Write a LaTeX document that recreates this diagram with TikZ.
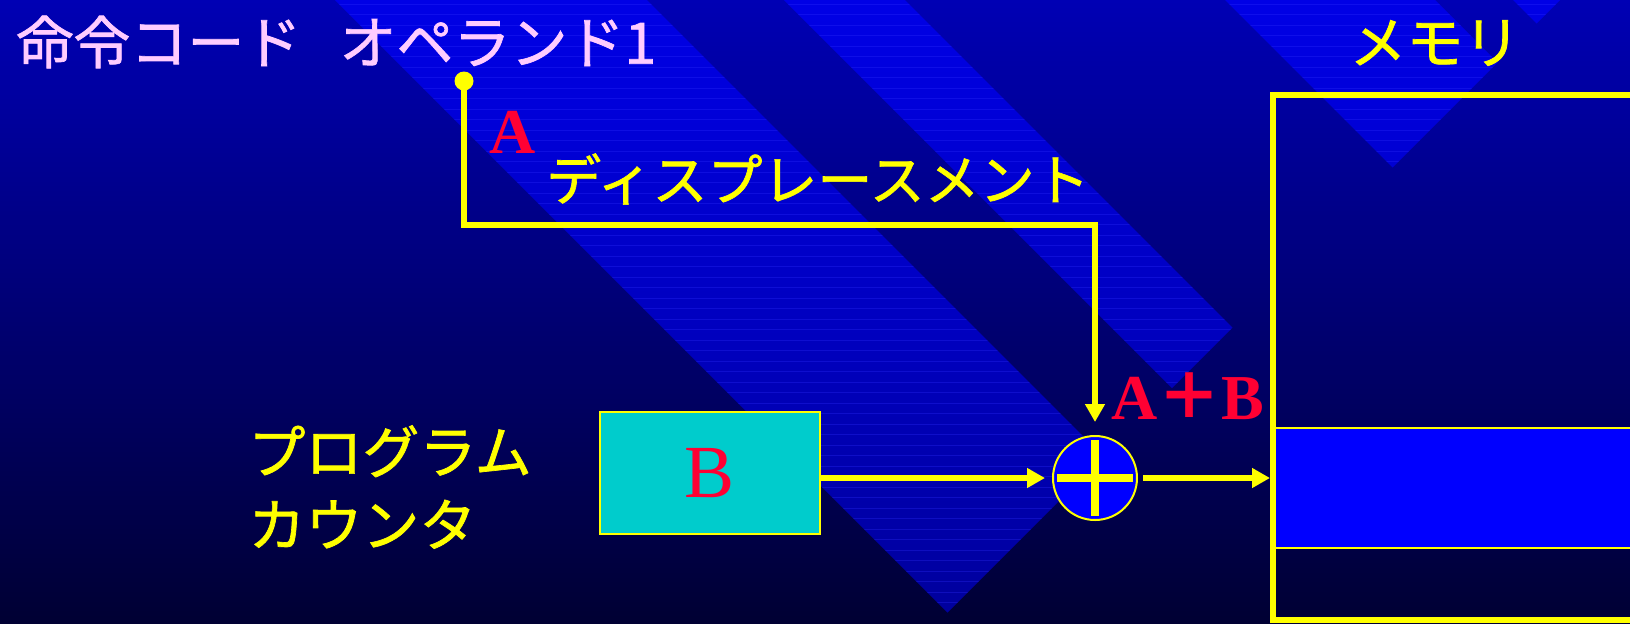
\documentclass[tikz,border=0pt]{standalone}
\usepackage{fontspec}
\setmainfont{Liberation Serif}
\newfontfamily\jpfont[FakeBold=1.2]{Noto Sans CJK JP}
\newfontfamily\jpplus{Noto Sans CJK JP}
\usepackage{xcolor}
\definecolor{bgTop}{HTML}{0000B4}
\definecolor{bgBottom}{HTML}{000033}
\definecolor{bandTop}{HTML}{0000E6}
\definecolor{bandBottom}{HTML}{00009C}
\definecolor{bandLine}{HTML}{3030FF}
\definecolor{textYellow}{HTML}{FFFF00}
\definecolor{titlePink}{HTML}{FFCCFF}
\definecolor{labelRed}{HTML}{FF0033}
\definecolor{boxCyan}{HTML}{00CCCC}
\definecolor{slotBlue}{HTML}{0000FF}
\usepackage{tikz}
\usetikzlibrary{arrows.meta,positioning}

\begin{document}
\begin{tikzpicture}[x=0.5pt,y=-0.5pt,
 jpLabel/.style={font=\jpfont\fontsize{28.5}{36.5}\selectfont,text=textYellow,inner sep=0pt,align=left},
 redLabel/.style={font=\bfseries\fontsize{32}{36}\selectfont,text=labelRed,inner sep=0pt},
 pcBox/.style={draw=textYellow,line width=0.8pt,fill=boxCyan,minimum width=110pt,minimum height=61pt,
 inner sep=0pt,outer sep=0pt,font=\fontsize{37.5}{40}\selectfont,text=labelRed},
 memFrame/.style={draw=textYellow,line width=3pt,minimum width=210pt,minimum height=262.5pt,inner sep=0pt,outer sep=0pt},
 memSlot/.style={draw=textYellow,line width=0.8pt,fill=slotBlue,minimum width=210pt,minimum height=60pt,inner sep=0pt,outer sep=0pt},
 adder/.style={circle,draw=textYellow,line width=1pt,fill=slotBlue,minimum size=42pt,inner sep=0pt,outer sep=0pt},
 tapDot/.style={circle,fill=textYellow,minimum size=9.5pt,inner sep=0pt},
 flow/.style={draw=textYellow,line width=2.75pt},
 arr/.style={flow,-{Triangle[length=9pt,width=9.5pt]}},
 crossBar/.style={draw=textYellow,line width=4pt},
 scanLine/.style={draw=bandLine,line width=0.5pt,opacity=0.3}]
 \useasboundingbox (0,0) rectangle (1630,623);
 \shade[top color=bgTop,bottom color=bgBottom] (0,0) rectangle (1630,623);
 \begin{scope}
 \clip (335,0) -- (647,0) -- (1103.5,456.5) -- (947.5,612.5) -- cycle
 (784,0) -- (905,0) -- (1232.5,327.5) -- (1172,388) -- cycle
 (1225,0) -- (1435,0) -- (1497.5,62.5) -- (1392.5,167.5) -- cycle
 (1513,0) -- (1560,0) -- (1536.5,23.5) -- cycle;
 \shade[top color=bandTop,bottom color=bandBottom] (0,0) rectangle (1630,623);
 \foreach \y in {4,14.5,...,623} \draw[scanLine] (0,\y) -- (1630,\y);
 \end{scope}

 \node[jpLabel,text=titlePink,anchor=west] (fmt) at (16,42) {命令コード\hspace{0.67em}オペランド1};
 \node[jpLabel] (memLabel) at (1435,43) {メモリ};
 \node[tapDot] (opnd) at (464,81) {};
 \node[redLabel,anchor=base] (dispA) at (513,153) {A};
 \node[jpLabel,font=\jpfont\fontsize{27.5}{33}\selectfont] (disp) at (818,179) {ディスプレースメント};
 \node[jpLabel,anchor=west] (pcLabel) at (248,487) {プログラム\\カウンタ};
 \node[pcBox] (pc) at (710,473) {B};
 \node[adder] (sum) at (1095,478) {};
 \node[redLabel,anchor=base] (sumLabel) at (1188,419) {A{\jpplus ＋}B};
 \node[memSlot] (slot) at (1483,488) {};
 \node[memFrame] (mem) at (1483,357.5) {};
 \coordinate (bend) at (464,225);

 \draw[arr,shorten >=7pt] (opnd.center) -- (bend) -- (bend -| sum) -- (sum.north);
 \draw[arr,shorten >=4pt] (pc.east |- sum) -- (sum.west);
 \draw[arr,shorten <=3pt,shorten >=1.5pt] (sum.east) -- (sum -| mem.west);
 \draw[crossBar,shorten <=2pt,shorten >=2pt] (sum.west) -- (sum.east);
 \draw[crossBar,shorten <=2pt,shorten >=2pt] (sum.north) -- (sum.south);
\end{tikzpicture}
\end{document}
